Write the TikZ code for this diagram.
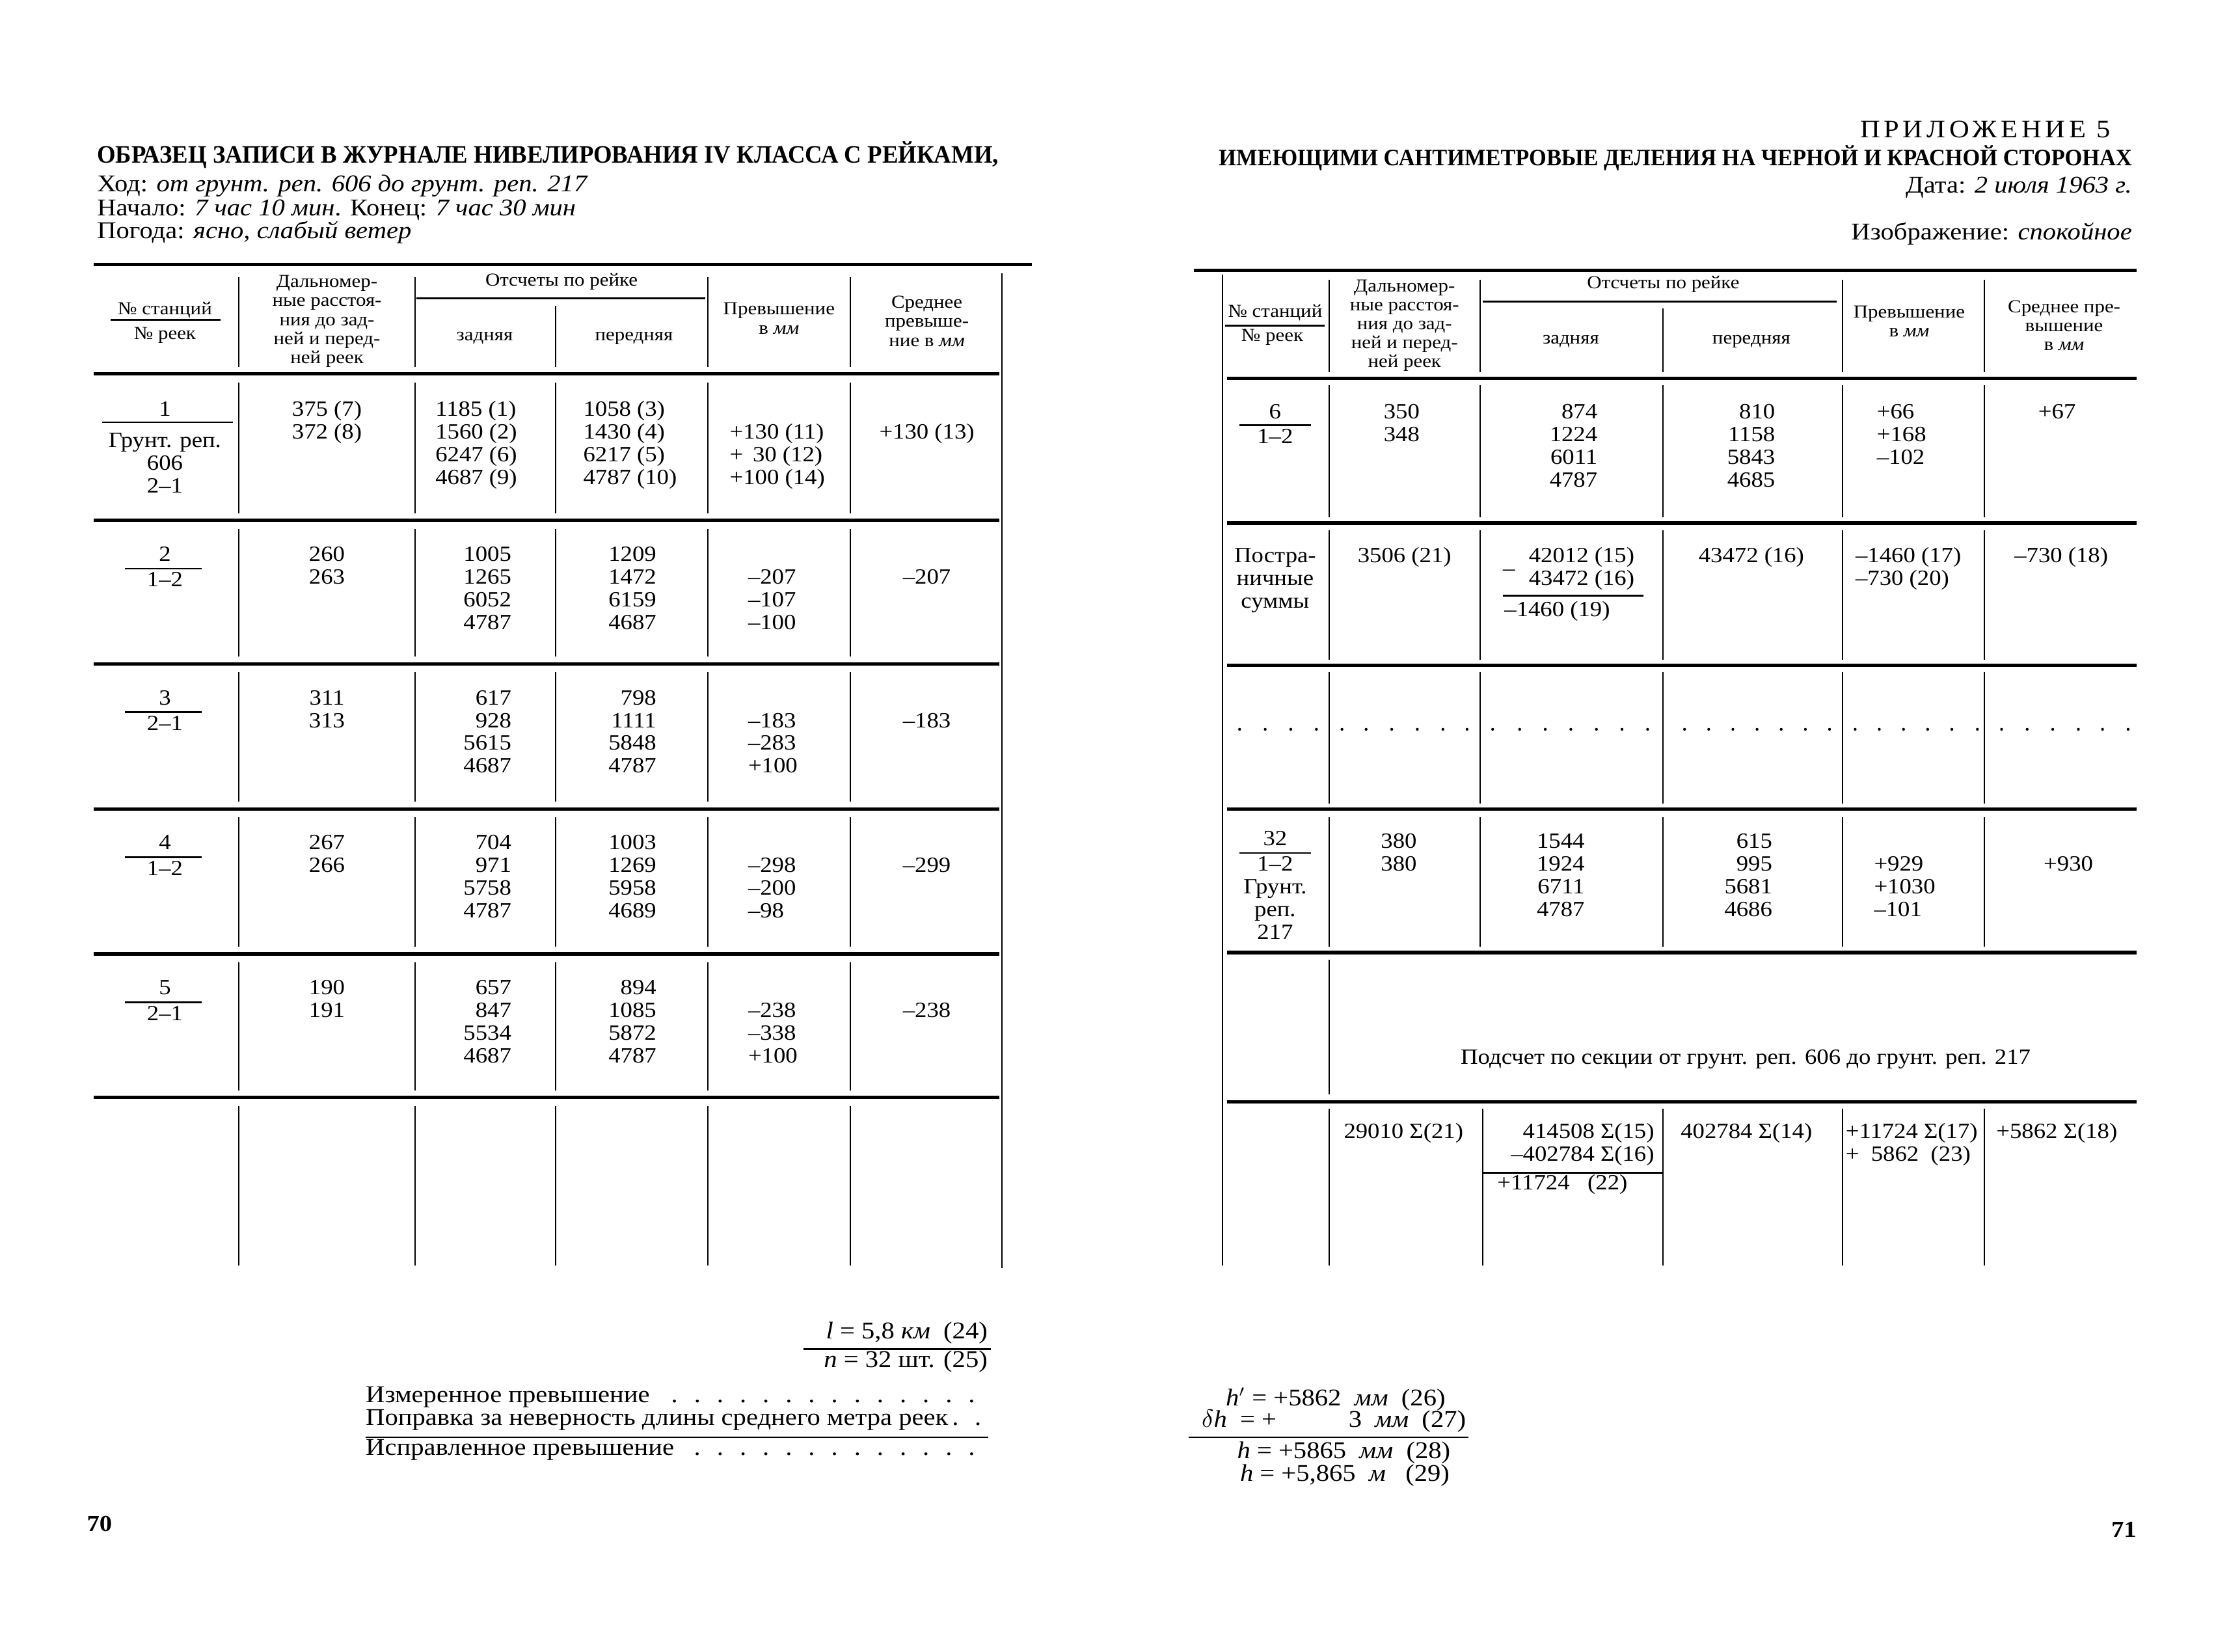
\documentclass[tikz,border=0pt]{standalone}
\usepackage{fontspec}
\setmainfont{Liberation Serif}[FakeStretch=1.1]
\newfontfamily\headfont{Liberation Serif}[FakeStretch=0.95]
\newfontfamily\spacedfont{Liberation Serif}[LetterSpace=15,FakeStretch=1.1]
\usepackage{tikz}
\newcommand\colc[3]{\foreach \s [count=\k from 0] in {#3} \node[anchor=mid] at (#1,#2+16*\k) {\s};}
\newcommand\colr[3]{\foreach \s [count=\k from 0] in {#3} \node[anchor=mid east] at (#1,#2+16*\k) {\s};}
\newcommand\coll[3]{\foreach \s [count=\k from 0] in {#3} \node[anchor=mid west] at (#1,#2+16*\k) {\s};}
\newcommand\dotsfill{\leaders\hbox to 10pt{\hss.\hss}\hfill}
\begin{document}
\begin{tikzpicture}[x=0.02185cm,y=-0.02185cm,
  rule/.style={line width=1.5pt},
  vline/.style={line width=0.55pt},
  fracline/.style={line width=0.8pt},
  hd/.style={font=\fontsize{8}{8.3}\selectfont,align=center},
  bt/.style={font=\fontsize{10.5}{11}\selectfont}]
\tikzstyle{every node}+=[inner sep=0pt,font=\fontsize{9.5}{10}\selectfont]
\useasboundingbox (0,0) rectangle (1568,1162);
\node (title1) [anchor=mid west,font=\headfont\bfseries\fontsize{11}{12}\selectfont] at (68,111) {ОБРАЗЕЦ ЗАПИСИ В ЖУРНАЛЕ НИВЕЛИРОВАНИЯ IV КЛАССА С РЕЙКАМИ,};
\node (hod) [anchor=mid west,bt] at (68,131) {Ход: \textit{от грунт. реп. 606 до грунт. реп. 217}};
\node (nach) [anchor=mid west,bt] at (68,148) {Начало: \textit{7 час 10 мин}. Конец: \textit{7 час 30 мин}};
\node (pog) [anchor=mid west,bt] at (68,164) {Погода: \textit{ясно, слабый ветер}};
\node (pril) [anchor=mid east,font=\spacedfont\fontsize{11}{12}\selectfont] at (1485,93) {ПРИЛОЖЕНИЕ 5};
\node (title2) [anchor=mid east,font=\headfont\bfseries\fontsize{10.3}{12}\selectfont] at (1500,113) {ИМЕЮЩИМИ САНТИМЕТРОВЫЕ ДЕЛЕНИЯ НА ЧЕРНОЙ И КРАСНОЙ СТОРОНАХ};
\node (data) [anchor=mid east,bt] at (1500,132) {Дата: \textit{2 июля 1963 г.}};
\node (izob) [anchor=mid east,bt] at (1500,165) {Изображение: \textit{спокойное}};
\draw [rule] (66,186) -- (726,186);
\foreach \y in {263,366,467,569,671,772} \draw [rule] (66,\y) -- (703,\y);
\draw [vline] (705,192) -- (705,892);
\foreach \x in {168,292,498,598} \draw [vline] (\x,195) -- (\x,258);
\draw [vline] (391,215) -- (391,258);
\foreach \a/\b in {269/361,372/462,473/564,575/666,677/767,778/890} \foreach \x in {168,292,391,498,598} \draw [vline] (\x,\a) -- (\x,\b);
\draw [fracline] (293,210) -- (496,210);
\draw [fracline] (78,225) -- (155,225);
\node [hd] at (116,218) {№ станций};
\node [hd] at (116,236) {№ реек};
\node [hd] at (230,226) {Дальномер-\\ные расстоя-\\ния до зад-\\ней и перед-\\ней реек};
\node [hd] at (395,198) {Отсчеты по рейке};
\node [hd] at (341,238) {задняя};
\node [hd] at (446,238) {передняя};
\node [hd] at (548,224) {Превышение\\в \textit{мм}};
\node [hd] at (652,226) {Среднее\\превыше-\\ние в \textit{мм}};
\colc{116}{289}{1}
\draw [fracline] (72,297) -- (164,297);
\colc{116}{311}{Грунт. реп.,606,2–1}
\colc{230}{289}{375 (7),372 (8)}
\coll{306}{289}{1185 (1),1560 (2),6247 (6),4687 (9)}
\coll{410}{289}{1058 (3),1430 (4),6217 (5),4787 (10)}
\coll{513}{305}{+130 (11),+\ \,30 (12),+100 (14)}
\colc{652}{305}{+130 (13)}
\colc{116}{391}{2}
\draw [fracline] (88,400) -- (142,400);
\colc{116}{409}{1–2}
\colc{230}{391}{260,263}
\colr{360}{391}{1005,1265,6052,4787}
\colr{462}{391}{1209,1472,6159,4687}
\coll{526}{407}{–207,–107,–100}
\colc{652}{407}{–207}
\colc{116}{492}{3}
\draw [fracline] (88,501) -- (142,501);
\colc{116}{510}{2–1}
\colc{230}{492}{311,313}
\colr{360}{492}{617,928,5615,4687}
\colr{462}{492}{798,1111,5848,4787}
\coll{526}{508}{–183,–283,+100}
\colc{652}{508}{–183}
\colc{116}{594}{4}
\draw [fracline] (88,603) -- (142,603);
\colc{116}{612}{1–2}
\colc{230}{594}{267,266}
\colr{360}{594}{704,971,5758,4787}
\colr{462}{594}{1003,1269,5958,4689}
\coll{526}{610}{–298,–200,–98}
\colc{652}{610}{–299}
\colc{116}{696}{5}
\draw [fracline] (88,705) -- (142,705);
\colc{116}{714}{2–1}
\colc{230}{696}{190,191}
\colr{360}{696}{657,847,5534,4687}
\colr{462}{696}{894,1085,5872,4787}
\coll{526}{712}{–238,–338,+100}
\colc{652}{712}{–238}
\node (ln) [anchor=mid east,bt] at (695,938) {\textit{l} = 5,8 \textit{км}\ \ (24)};
\draw [fracline] (565,949) -- (697,949);
\node (nn) [anchor=mid east,bt] at (695,958) {\textit{n} = 32 шт. (25)};
\node (izm) [anchor=mid west,bt] at (257,983) {\makebox[9.53cm][l]{Измеренное превышение\dotsfill}};
\node (popr) [anchor=mid west,bt] at (257,999) {\makebox[9.53cm][l]{Поправка за неверность длины среднего метра реек\hfill.\hspace{7pt}.\hspace{2pt}}};
\draw [fracline] (257,1011) -- (695,1011);
\node (ispr) [anchor=mid west,bt] at (257,1020) {\makebox[9.53cm][l]{Исправленное превышение\dotsfill}};
\node (p70) [font=\bfseries\fontsize{10}{11}\selectfont] at (70,1072) {70};
\draw [rule] (840,190) -- (1503,190);
\foreach \y in {266,368,468,569,670,775} \draw [rule] (863,\y) -- (1503,\y);
\draw [vline] (860,193) -- (860,890);
\foreach \x in {935,1041,1296,1396} \draw [vline] (\x,197) -- (\x,262);
\draw [vline] (1170,217) -- (1170,262);
\foreach \a/\b in {271/364,373/464,473/565,575/666} \foreach \x in {935,1041,1170,1296,1396} \draw [vline] (\x,\a) -- (\x,\b);
\draw [vline] (935,675) -- (935,770);
\foreach \x in {935,1043,1170,1296,1396} \draw [vline] (\x,780) -- (\x,890);
\draw [fracline] (1043,212) -- (1292,212);
\draw [fracline] (862,229) -- (932,229);
\node [hd] at (897,220) {№ станций};
\node [hd] at (895,237) {№ реек};
\node [hd] at (988,229) {Дальномер-\\ные расстоя-\\ния до зад-\\ней и перед-\\ней реек};
\node [hd] at (1170,200) {Отсчеты по рейке};
\node [hd] at (1105,240) {задняя};
\node [hd] at (1232,240) {передняя};
\node [hd] at (1343,226) {Превышение\\в \textit{мм}};
\node [hd] at (1452,229) {Среднее пре-\\вышение\\в \textit{мм}};
\colc{897}{291}{6}
\draw [fracline] (872,299) -- (922,299);
\colc{897}{308}{1–2}
\colc{986}{291}{350,348}
\colr{1124}{291}{874,1224,6011,4787}
\colr{1249}{291}{810,1158,5843,4685}
\coll{1320}{291}{+66,+168,–102}
\colc{1447}{291}{+67}
\colc{897}{392}{Постра-,ничные,суммы}
\colc{988}{392}{3506 (21)}
\colr{1150}{392}{42012 (15),43472 (16)}
\node [anchor=mid west] at (1057,401) {–};
\draw [fracline] (1057,419) -- (1156,419);
\coll{1058}{430}{–1460 (19)}
\colc{1232}{392}{43472 (16)}
\coll{1305}{392}{–1460 (17),–730 (20)}
\colc{1450}{392}{–730 (18)}
\foreach \x in {872,890,908,926,944,961,979,997,1015,1032,1050,1069,1087,1105,1123,1141,1159,1185,1202,1219,1236,1253,1270,1287,1305,1322,1339,1356,1373,1391,1408,1426,1444,1462,1479,1497} \fill (\x,513) circle (1);
\colc{897}{591}{32}
\draw [fracline] (872,600) -- (922,600);
\colc{897}{609}{1–2,Грунт.,реп.,217}
\colc{984}{593}{380,380}
\colr{1115}{593}{1544,1924,6711,4787}
\colr{1247}{593}{615,995,5681,4686}
\coll{1318}{609}{+929,+1030,–101}
\colc{1455}{609}{+930}
\node (podschet) at (1228,745) {Подсчет по секции от грунт. реп. 606 до грунт. реп. 217};
\node [anchor=mid west] at (945,797) {29010 Σ(21)};
\colr{1164}{797}{414508 Σ(15),–402784 Σ(16)}
\draw [fracline] (1043,825) -- (1170,825);
\node [anchor=mid west] at (1053,833) {+11724\ \ \ (22)};
\node [anchor=mid west] at (1182,797) {402784 Σ(14)};
\coll{1298}{797}{+11724 Σ(17),+\ \ 5862\ \ (23)}
\node [anchor=mid west] at (1404,797) {+5862 Σ(18)};
\node (h1) [anchor=mid west,bt] at (862,985) {\textit{h}$'$ = +5862\ \ \textit{мм}\ \ (26)};
\node (dh) [anchor=mid west,bt] at (845,1000) {$\delta$\textit{h}\ \ = +\qquad\quad 3\ \ \textit{мм}\ \ (27)};
\draw [fracline] (836,1011) -- (1033,1011);
\node (h2) [anchor=mid west,bt] at (870,1022) {\textit{h} = +5865\ \ \textit{мм}\ \ (28)};
\node (h3) [anchor=mid west,bt] at (872,1038) {\textit{h} = +5,865\ \ \textit{м}\ \ \ (29)};
\node (p71) [font=\bfseries\fontsize{10}{11}\selectfont] at (1494,1076) {71};
\end{tikzpicture}
\end{document}
